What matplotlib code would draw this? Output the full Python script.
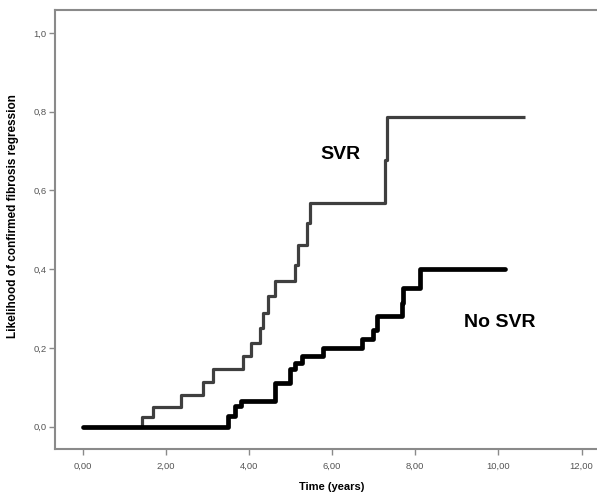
import matplotlib
matplotlib.use("Agg")
import matplotlib.pyplot as plt
import matplotlib.ticker as ticker

# step curves (time in years, cumulative likelihood)
svr_t = [0.0, 1.42, 1.70, 2.36, 2.90, 3.14, 3.86, 4.06, 4.26, 4.34, 4.46,
         4.62, 5.10, 5.18, 5.39, 5.47, 7.27, 7.31, 10.63]
svr_p = [0.0, 0.024, 0.050, 0.081, 0.114, 0.145, 0.178, 0.212, 0.250, 0.289,
         0.331, 0.369, 0.411, 0.462, 0.517, 0.568, 0.678, 0.786, 0.786]

nosvr_t = [0.0, 3.50, 3.66, 3.82, 4.62, 4.99, 5.11, 5.27, 5.79, 6.71, 6.99,
           7.07, 7.67, 7.71, 8.11, 10.15]
nosvr_p = [0.0, 0.026, 0.052, 0.066, 0.111, 0.145, 0.162, 0.178, 0.200,
           0.223, 0.246, 0.280, 0.314, 0.352, 0.399, 0.399]

x_ticks = [0, 2, 4, 6, 8, 10, 12]
y_ticks = [0.0, 0.2, 0.4, 0.6, 0.8, 1.0]

plt.rcParams['font.family'] = ['Liberation Sans', 'DejaVu Sans']

fig = plt.figure(figsize=(5.97, 4.93), dpi=100)
ax = fig.add_axes([55/597, 44/493, 1 - 55/597, 439/493])

ax.step(svr_t, svr_p, where='post', color='#3f3f3f', lw=2.3, solid_capstyle='butt')
ax.step(nosvr_t, nosvr_p, where='post', color='black', lw=3.4, solid_capstyle='round')

ax.text(6.19, 0.69, "SVR", fontsize=14, fontweight='bold', ha='center', va='center')
ax.text(10.03, 0.264, "No SVR", fontsize=14, fontweight='bold', ha='center', va='center')

ax.set_xlim(-0.663, 12.37)
ax.set_ylim(-0.057, 1.058)
ax.set_xticks(x_ticks)
ax.set_yticks(y_ticks)
ax.xaxis.set_major_formatter(ticker.FuncFormatter(lambda v, p: ("%.2f" % v).replace(".", ",")))
ax.yaxis.set_major_formatter(ticker.FuncFormatter(lambda v, p: ("%.1f" % v).replace(".", ",")))

for s in ['left', 'bottom', 'top']:
    ax.spines[s].set_color('#8a8a8a')
    ax.spines[s].set_linewidth(1.5)
ax.spines['right'].set_visible(False)

ax.tick_params(axis='both', colors='#8a8a8a', labelcolor='#555555', labelsize=6.8, length=4, width=1)
ax.tick_params(axis='x', pad=5.5)
ax.tick_params(axis='y', pad=2)

ax.set_xlabel("Time (years)", fontsize=8, fontweight='bold')
ax.xaxis.set_label_coords(0.511, -0.075)
ax.set_ylabel("Likelihood of confirmed fibrosis regression", fontsize=8.5, fontweight='bold')
ax.yaxis.set_label_coords(-0.066, 0.531)

fig.savefig("out.png", dpi=100)
